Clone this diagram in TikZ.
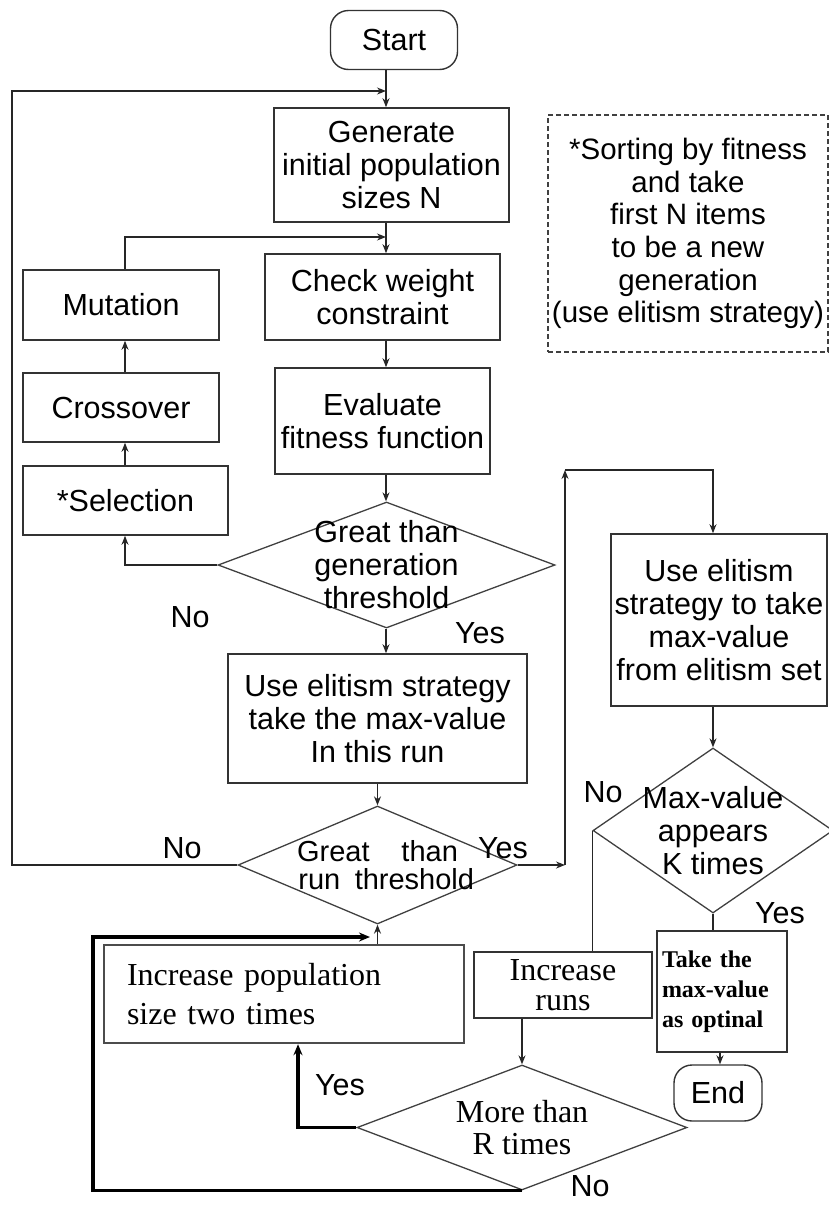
\documentclass[tikz,border=0pt]{standalone}
\usepackage{fontspec}
\setmainfont{Liberation Sans}
\newfontfamily\timesfont{Liberation Serif}
\usetikzlibrary{shapes.geometric, arrows.meta, positioning}

\begin{document}
\begin{tikzpicture}[
    x=1pt, y=-1pt,
    font=\fontsize{30.5}{33}\selectfont,
    box/.style={rectangle, draw=black!80, line width=1.6pt, align=center, inner sep=0pt},
    term/.style={rectangle, rounded corners=18pt, draw=black!80, line width=1.4pt, inner sep=0pt},
    decision/.style={diamond, draw=black!75, line width=1.3pt, inner sep=0pt},
    serifbox/.style={box, font=\timesfont\fontsize{32}{39}\selectfont},
    note/.style={rectangle, draw=black!75, line width=1.2pt, dash pattern=on 5pt off 3pt, align=center, inner sep=0pt, font=\fontsize{29.5}{32.6}\selectfont},
    arrow/.style={-{Stealth[length=9pt,width=7pt]}, line width=1.4pt, draw=black!85},
    boldarrow/.style={-{Stealth[length=11pt,width=9pt]}, line width=3.5pt, draw=black},
    link/.style={line width=1.4pt, draw=black!85}
]
    \useasboundingbox (0,0) rectangle (829,1205);

    % main column
    \node[term, minimum width=127pt, minimum height=59pt] (start) at (394,40) {Start};
    \node[box, minimum width=235pt, minimum height=114pt] (gen) at (391.5,165) {Generate\\initial population\\sizes N};
    \node[box, minimum width=235pt, minimum height=86pt] (check) at (382.5,297) {Check weight\\constraint};
    \node[box, minimum width=215pt, minimum height=106pt] (eval) at (382.5,421) {Evaluate\\fitness function};
    \node[decision, minimum width=337pt, minimum height=126pt,
          label={[align=center]center:Great than\\generation\\threshold}] (gengate) at (386.5,565) {};
    \node[box, minimum width=299pt, minimum height=129pt] (elite) at (377.5,718.5) {Use elitism strategy\\take the max-value\\In this run};
    \node[decision, minimum width=279pt, minimum height=118pt,
          label={[align=center, font=\fontsize{29}{28}\selectfont]center:Great\hspace{1.1em}than\\\hspace{0.6em}run\hspace{0.5em}threshold}] (rungate) at (377.5,865) {};

    % genetic operators
    \node[box, minimum width=196pt, minimum height=70pt] (mut) at (121,305) {Mutation};
    \node[box, minimum width=196pt, minimum height=69pt] (cross) at (121,407.5) {Crossover};
    \node[box, minimum width=205pt, minimum height=69pt] (sel) at (125.5,500.5) {*Selection};

    % note
    \node[note, minimum width=280pt, minimum height=237pt] (sortnote) at (688,233.5) {*Sorting by fitness\\and take\\first N items\\to be a new\\generation\\(use elitism strategy)};

    % right column
    \node[box, minimum width=216pt, minimum height=172pt] (elitefinal) at (719,620) {Use elitism\\strategy to take\\max-value\\from elitism set};
    \node[decision, minimum width=240pt, minimum height=165pt,
          label={[align=center]center:Max-value\\appears\\K times}] (kgate) at (713,830.5) {};
    \node[box, font=\timesfont\bfseries\fontsize{24}{30}\selectfont, text width=120pt, inner xsep=5pt, align=left, minimum height=121pt] (take) at (722,991.5) {Take the\\max-value\\as optinal};
    \node[term, minimum width=88pt, minimum height=56pt] (end) at (718,1093) {End};

    % bottom part
    \node[serifbox, font=\timesfont\fontsize{32}{30}\selectfont, minimum width=178pt, minimum height=66pt] (runs) at (563,985) {Increase\\runs};
    \node[serifbox, draw=black!70, line width=2.4pt, text width=314pt, inner xsep=23pt, align=left, minimum height=98pt] (incpop) at (284,994) {Increase population\\size two times};
    \node[decision, minimum width=330pt, minimum height=125pt,
          label={[align=center, font=\timesfont\fontsize{32}{32}\selectfont]center:More than\\R times}] (rgate) at (522,1127.5) {};

    % branch labels
    \node (nogen) at (190,617) {No};
    \node (yesgen) at (480,633) {Yes};
    \node (norun) at (182,848) {No};
    \node (yesrun) at (503,848) {Yes};
    \node (nok) at (603,792) {No};
    \node (yesk) at (780,913) {Yes};
    \node (yesr) at (340,1085) {Yes};
    \node (nor) at (590,1186) {No};

    % turning points
    \coordinate (col) at (386,0);
    \coordinate (mutloop) at (125,237);
    \coordinate (outer) at (12,91);
    \coordinate (upturn) at (565,865);
    \coordinate (topturn) at (565,470);
    \coordinate (lowturn) at (93,937);
    \coordinate (merge) at (370,937);

    \draw[arrow] (start.south -| col) -- (gen.north -| col);
    \draw[arrow] (gen.south -| col) -- (check.north -| col);
    \draw[arrow] (check.south -| col) -- (eval.north -| col);
    \draw[arrow] (eval.south -| col) -- (gengate.north -| col);
    \draw[arrow] (gengate.south -| col) -- (elite.north -| col);
    \draw[arrow] (elite.south) -- (rungate.north);

    \draw[arrow] (gengate.west) -| (sel.south -| mutloop);
    \draw[arrow] (sel.north -| mutloop) -- (cross.south -| mutloop);
    \draw[arrow] (cross.north -| mutloop) -- (mut.south -| mutloop);
    \draw[arrow] (mut.north -| mutloop) -- (mutloop) -- (mutloop -| col);

    \draw[arrow] (rungate.west) -| (outer) -- (outer -| col);
    \draw[arrow] (rungate.east) -- (upturn);
    \draw[arrow] (upturn) -- (topturn);
    \draw[arrow] (topturn) -| (elitefinal.north -| kgate);
    \draw[arrow] (elitefinal.south -| kgate) -- (kgate.north);
    \draw[link] (kgate.south) -- (kgate.south |- take.north);
    \draw[arrow] (take.south -| 720,0) -- (end.north -| 720,0);
    \draw[link] (kgate.west) -- (kgate.west |- runs.north);
    \draw[arrow] (runs.south -| rgate) -- (rgate.north);

    \draw[boldarrow] (rgate.west) -| ([xshift=14pt]incpop.south);
    \draw[boldarrow] (rgate.south) -| (lowturn) -- (merge);
    \draw[arrow] (incpop.north -| rungate) -- (rungate.south);
\end{tikzpicture}
\end{document}
